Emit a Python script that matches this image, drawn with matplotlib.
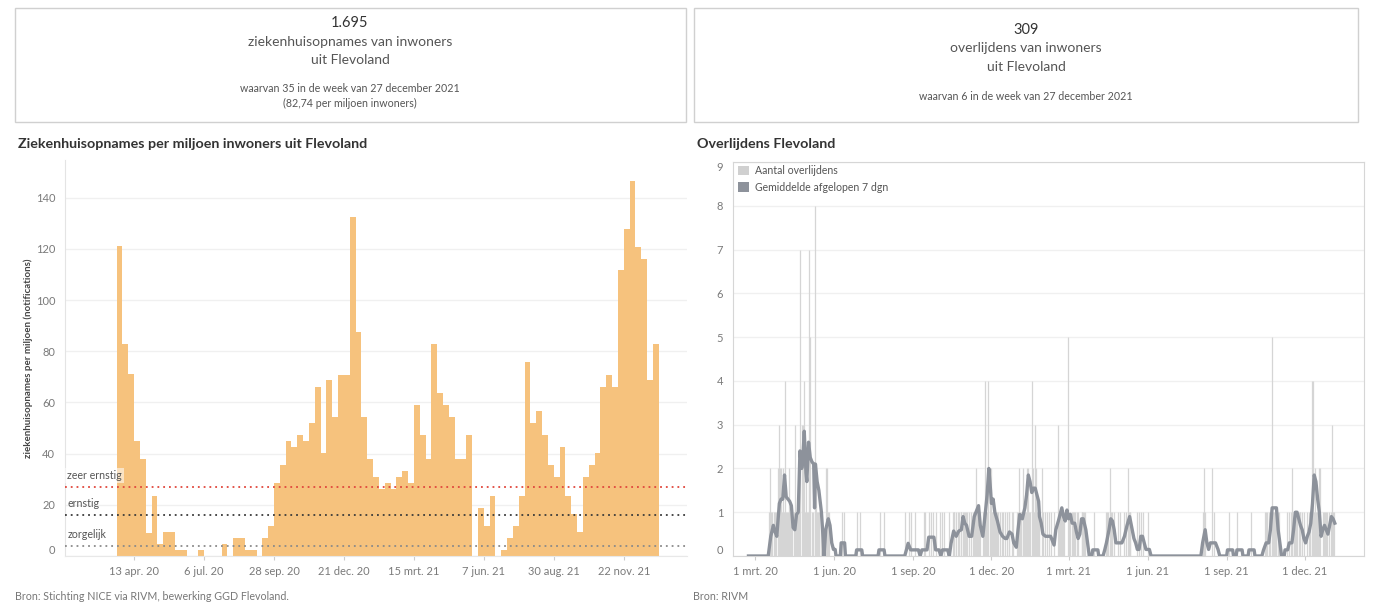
import numpy as np
import pandas as pd
import matplotlib
matplotlib.use("Agg")
from matplotlib import pyplot as plt
import matplotlib.dates as mdates
from matplotlib.patches import Rectangle

W, H = 1373, 603
plt.rcParams["font.family"] = ["Lato", "DejaVu Sans"]

# ---------------- data ----------------
# weekly hospital admissions per million (week starting Monday)
opname_first_week = "2020-03-23"
opname_values = [
    121, 83, 71, 45, 38, 9, 23.5, 4.7, 9.4, 9.4, 2.4, 2.4, 0, 0, 2.4, 0, 0, 0, 4.7, 0,
    7.1, 7.1, 2.4, 2.4, 0, 7.1, 11.8, 28.4, 35.5, 45, 42.5, 47.3, 45, 52, 66.2, 40.2,
    68.6, 54.4, 70.9, 70.9, 132.4, 87.5, 54.4, 37.8, 30.7, 26, 28.4, 26, 30.7, 33.1,
    28.4, 59.1, 47.3, 37.8, 82.7, 63.8, 59.1, 54.4, 37.8, 37.8, 47.3, 0, 18.9, 11.8,
    23.6, 0, 2.4, 7.1, 11.8, 23.6, 75.6, 52, 56.7, 47.3, 35.5, 30.7, 42.5, 23.6, 16.5,
    9.4, 30.7, 35.5, 40.2, 66.2, 70.9, 66.2, 111.6, 127.7, 146.6, 120.6, 115.9, 68.6,
    82.74,
]
threshold_names = ["zeer ernstig", "ernstig", "zorgelijk"]
threshold_values = [27, 16, 4]
threshold_colors = ["#e0463c", "#3a3a3a", "#8a8a8a"]

opname_tick_dates = ["2020-04-13", "2020-07-06", "2020-09-28", "2020-12-21",
                     "2021-03-15", "2021-06-07", "2021-08-30", "2021-11-22"]
opname_tick_labels = ["13 apr. 20", "6 jul. 20", "28 sep. 20", "21 dec. 20",
                      "15 mrt. 21", "7 jun. 21", "30 aug. 21", "22 nov. 21"]

# daily deaths, one string of 7 days per week, first week starts 24 feb 2020
death_first_day = "2020-02-24"
death_weeks = [
    "0000000", "0000000", "0000000", "0121010", "1110213", "2212114", "1112111",
    "1013111", "1170323", "4121127", "5011018", "2111011", "0000212", "1100000",
    "0000000", "0010100", "0000000", "0000010", "0010000", "0000000", "0000000",
    "0000100", "0010000", "0000000", "0000000", "0000010", "0001010", "0001000",
    "0000001", "0100010", "0101001", "0000101", "0010000", "0100011", "1010110",
    "1101111", "1001010", "0111211", "1010011", "4111402", "2111111", "1010101",
    "0101010", "1100110", "0001121", "1102111", "2121104", "1213211", "1100210",
    "0101010", "1000100", "0301111", "1010005", "1100111", "1001100", "0111110",
    "0000000", "0100000", "0000000", "0011102", "1010100", "0100100", "0100102",
    "1110000", "0001010", "1001000", "0100000", "0000000", "0000000", "0000000",
    "0000000", "0000000", "0000000", "0000000", "0000000", "0001210", "0000002",
    "0100000", "0000000", "0000010", "0000000", "1000000", "0000000", "0010000",
    "0000000", "0000011", "1010105", "1111101", "1000000", "0010010", "1201111",
    "1011101", "0100010", "1101441", "2110122", "0011101", "1010103", "1100000",
]

# 7-day average line (days after 1 mrt 2020)
avg_days = [
    -8, 15, 18, 21, 23, 25, 28, 30, 32, 34, 36, 40, 42, 44, 46, 48, 50, 52, 54, 55,
    57, 59, 60, 62, 64, 66, 68, 69, 70, 72, 74, 77, 79, 80, 82, 85, 87, 89, 91, 93,
    94, 99, 100, 104, 105, 117, 118, 124, 125, 143, 144, 150, 151, 174, 176, 178,
    181, 190, 192, 194, 200, 202, 208, 210, 214, 216, 218, 224, 226, 228, 231, 234,
    237, 240, 242, 244, 246, 249, 252, 255, 260, 262, 265, 268, 270, 272, 274, 275,
    277, 279, 282, 285, 288, 291, 293, 296, 299, 301, 304, 306, 308, 311, 314, 316,
    318, 320, 322, 324, 326, 328, 330, 331, 333, 335, 338, 341, 344, 346, 348, 350,
    353, 355, 357, 359, 361, 363, 365, 367, 369, 372, 374, 376, 378, 380, 382, 385,
    387, 389, 392, 393, 399, 400, 405, 407, 409, 412, 414, 416, 418, 420, 424, 427,
    430, 433, 436, 438, 441, 443, 445, 447, 449, 451, 453, 455, 459, 461, 519, 521,
    524, 526, 528, 530, 533, 536, 539, 541, 549, 550, 556, 557, 560, 561, 567, 568,
    574, 575, 581, 582, 590, 592, 595, 598, 600, 602, 605, 607, 609, 611, 613, 616,
    617, 620, 622, 625, 627, 629, 631, 633, 635, 637, 639, 641, 643, 645, 647, 649,
    651, 653, 655, 657, 659, 661, 663, 665, 667, 669, 671, 673, 675,
]
avg_values = [
    0, 0, 0.45, 0.7, 0.55, 0.45, 1.2, 1.3, 1.3, 1.85, 1.35, 1.25, 1.15, 0.65, 0.6,
    0.95, 1.0, 2.4, 2.0, 2.1, 2.85, 1.9, 1.7, 2.6, 2.25, 2.15, 2.1, 1.1, 2.1, 1.7,
    1.5, 1.0, 0.4, 0, 0.6, 0.85, 0.7, 0.3, 0.15, 0.15, 0, 0, 0.3, 0.3, 0, 0, 0.14,
    0.14, 0, 0, 0.14, 0.14, 0, 0, 0.14, 0.29, 0.14, 0.14, 0, 0.14, 0.14, 0.43, 0.43,
    0.14, 0.14, 0, 0.14, 0.14, 0, 0.29, 0.57, 0.45, 0.57, 0.6, 0.9, 0.75, 0.7, 0.45,
    0.45, 0.9, 1.15, 0.7, 0.45, 1.0, 1.4, 2.0, 1.5, 1.2, 1.3, 1.0, 0.8, 0.55, 0.45,
    0.4, 0.4, 0.55, 0.5, 0.3, 0.2, 0.6, 0.95, 0.85, 1.1, 1.4, 1.85, 1.7, 1.45, 1.55,
    1.55, 1.4, 1.25, 0.9, 0.75, 0.5, 0.45, 0.45, 0.45, 0.35, 0.25, 0.6, 0.8, 0.95,
    1.1, 0.9, 0.8, 1.05, 0.85, 0.95, 0.75, 0.75, 0.55, 0.4, 0.5, 0.85, 0.85, 0.6,
    0.3, 0, 0, 0.14, 0.14, 0, 0, 0.14, 0.3, 0.6, 0.85, 0.8, 0.6, 0.3, 0.3, 0.3, 0.45,
    0.7, 0.9, 0.7, 0.4, 0.3, 0.15, 0.15, 0.45, 0.45, 0.3, 0.15, 0.15, 0, 0, 0.3, 0.6,
    0.3, 0.15, 0.3, 0.3, 0.3, 0.15, 0, 0, 0.14, 0.14, 0, 0, 0.14, 0.14, 0, 0, 0.14,
    0.14, 0, 0, 0.14, 0.3, 0.3, 0.6, 1.1, 1.1, 1.1, 0.6, 0.3, 0, 0, 0.14, 0.14, 0.3,
    0.3, 0.6, 1.0, 1.0, 0.85, 0.7, 0.6, 0.4, 0.3, 0.45, 0.55, 0.75, 1.2, 1.85, 1.7,
    1.3, 1.0, 0.45, 0.6, 0.7, 0.6, 0.5, 0.7, 0.9, 0.85, 0.75,
]
death_tick_dates = ["2020-03-01", "2020-06-01", "2020-09-01", "2020-12-01",
                    "2021-03-01", "2021-06-01", "2021-09-01", "2021-12-01"]
death_tick_labels = ["1 mrt. 20", "1 jun. 20", "1 sep. 20", "1 dec. 20",
                     "1 mrt. 21", "1 jun. 21", "1 sep. 21", "1 dec. 21"]

# ---------------- helpers ----------------
def fx(x):
    return x / W

def fy(y):
    return 1 - y / H

TEXT = "#555555"
TICK = "#7a7a7a"
GRID = "#f0f0f0"
SPINE = "#d6d6d6"

fig = plt.figure(figsize=(W / 100, H / 100), dpi=100)
fig.patch.set_facecolor("white")

# ---------------- KPI boxes ----------------
for x0, x1 in [(15, 686), (694, 1358)]:
    fig.add_artist(Rectangle((fx(x0), fy(122)), fx(x1 - x0), (122 - 8) / H,
                             transform=fig.transFigure, fill=False,
                             edgecolor="#d0d0d0", linewidth=1))

cx1 = fx(350)
fig.text(cx1, fy(23), "1.695", ha="center", va="center", fontsize=10.5, color="#333333")
fig.text(cx1, fy(42), "ziekenhuisopnames van inwoners", ha="center", va="center", fontsize=10, color=TEXT)
fig.text(cx1, fy(60), "uit Flevoland", ha="center", va="center", fontsize=10, color=TEXT)
fig.text(cx1, fy(89), "waarvan 35 in de week van 27 december 2021", ha="center", va="center", fontsize=7.7, color=TEXT)
fig.text(cx1, fy(103), "(82,74 per miljoen inwoners)", ha="center", va="center", fontsize=7.7, color=TEXT)

cx2 = fx(1026)
fig.text(cx2, fy(30), "309", ha="center", va="center", fontsize=10.5, color="#333333")
fig.text(cx2, fy(48), "overlijdens van inwoners", ha="center", va="center", fontsize=10, color=TEXT)
fig.text(cx2, fy(67), "uit Flevoland", ha="center", va="center", fontsize=10, color=TEXT)
fig.text(cx2, fy(97), "waarvan 6 in de week van 27 december 2021", ha="center", va="center", fontsize=7.7, color=TEXT)

# ---------------- titles / sources ----------------
fig.text(fx(18), fy(144), "Ziekenhuisopnames per miljoen inwoners uit Flevoland",
         ha="left", va="center", fontsize=10.3, fontweight="bold", color="#333333")
fig.text(fx(697), fy(144), "Overlijdens Flevoland",
         ha="left", va="center", fontsize=10.3, fontweight="bold", color="#333333")
fig.text(fx(15), fy(596), "Bron: Stichting NICE via RIVM, bewerking GGD Flevoland.",
         ha="left", va="center", fontsize=7.7, color="#777777")
fig.text(fx(693), fy(596), "Bron: RIVM", ha="left", va="center", fontsize=7.7, color="#777777")

# ---------------- left chart ----------------
ax1 = fig.add_axes([fx(65), fy(556), fx(687 - 65), (556 - 160) / H])
weeks = pd.date_range(opname_first_week, periods=len(opname_values), freq="7D")
ax1.bar(weeks, opname_values, width=7, align="edge", color="#f6c27d",
        linewidth=0, zorder=2)
ax1.set_xlim(pd.Timestamp("2020-01-21"), pd.Timestamp("2022-02-06"))
ax1.set_ylim(0, 154.7)
ax1.set_yticks(range(0, 141, 20))
ax1.grid(axis="y", color=GRID, linewidth=1, zorder=0)
ax1.set_xticks(pd.to_datetime(opname_tick_dates))
ax1.set_xticklabels(opname_tick_labels)
for name, val, col in zip(threshold_names, threshold_values, threshold_colors):
    ax1.axhline(val, color=col, linestyle=(0, (1, 2.2)), linewidth=1.3, zorder=3)
    box = dict(facecolor="white", alpha=0.55, edgecolor="none", pad=1.5) if name == "zeer ernstig" else None
    ax1.text(0.004, val + 2.2, name, transform=ax1.get_yaxis_transform(),
             ha="left", va="bottom", fontsize=7.7, color=TEXT, bbox=box, zorder=4)
ax1.set_ylabel("ziekenhuisopnames per miljoen (notifications)", fontsize=7,
               fontweight="bold", color="#444444")
ax1.yaxis.set_label_coords(-0.0514, 0.5)
for s in ["top", "right"]:
    ax1.spines[s].set_visible(False)
ax1.spines["left"].set_color("#e4e4e4")
ax1.spines["bottom"].set_color("#e8e8e8")
ax1.tick_params(axis="y", length=0, labelsize=8, labelcolor=TICK, pad=7)
ax1.tick_params(axis="x", length=3, color="#cccccc", labelsize=8, labelcolor=TICK, pad=4)
ax1.yaxis.get_major_ticks()[0].label1.set_va("bottom")

# ---------------- right chart ----------------
ax2 = fig.add_axes([fx(733), fy(556), fx(1364 - 733), (556 - 162) / H])
counts = np.array([int(c) for wk in death_weeks for c in wk])
days = pd.date_range(death_first_day, periods=len(counts), freq="D")
nz = counts > 0
ax2.vlines(mdates.date2num(days[nz].to_pydatetime()), 0, counts[nz],
           color="#d5d5d5", linewidth=0.9, zorder=2, label="Aantal overlijdens")
avg_dates = pd.Timestamp("2020-03-01") + pd.to_timedelta(avg_days, unit="D")
ax2.plot(avg_dates, avg_values, color="#8d929b", linewidth=2.4,
         solid_joinstyle="round", zorder=3, label="Gemiddelde afgelopen 7 dgn")
ax2.set_xlim(pd.Timestamp("2020-02-04"), pd.Timestamp("2022-02-08"))
ax2.set_ylim(0, 9)
ax2.set_yticks(range(0, 10))
ax2.grid(axis="y", color=GRID, linewidth=1, zorder=0)
ax2.set_xticks(pd.to_datetime(death_tick_dates))
ax2.set_xticklabels(death_tick_labels)
for s in ax2.spines.values():
    s.set_color(SPINE)
ax2.tick_params(axis="y", length=0, labelsize=8, labelcolor=TICK, pad=7)
ax2.tick_params(axis="x", length=3, color="#cccccc", labelsize=8, labelcolor=TICK, pad=4)
ax2.yaxis.get_major_ticks()[0].label1.set_va("bottom")
ax2.yaxis.get_major_ticks()[-1].label1.set_va("top")

handles = [Rectangle((0, 0), 1, 1, facecolor="#d0d0d0", edgecolor="none"),
           Rectangle((0, 0), 1, 1, facecolor="#8d929b", edgecolor="none")]
leg = ax2.legend(handles, ["Aantal overlijdens", "Gemiddelde afgelopen 7 dgn"],
                 loc="upper left", bbox_to_anchor=(0.0, 1.005), frameon=False,
                 fontsize=7.6, handlelength=1.0, handleheight=1.0,
                 handletextpad=0.6, borderpad=0.3, labelspacing=0.5, borderaxespad=0.2)
for t in leg.get_texts():
    t.set_color(TEXT)

fig.savefig("out.png", dpi=100, facecolor="white")
